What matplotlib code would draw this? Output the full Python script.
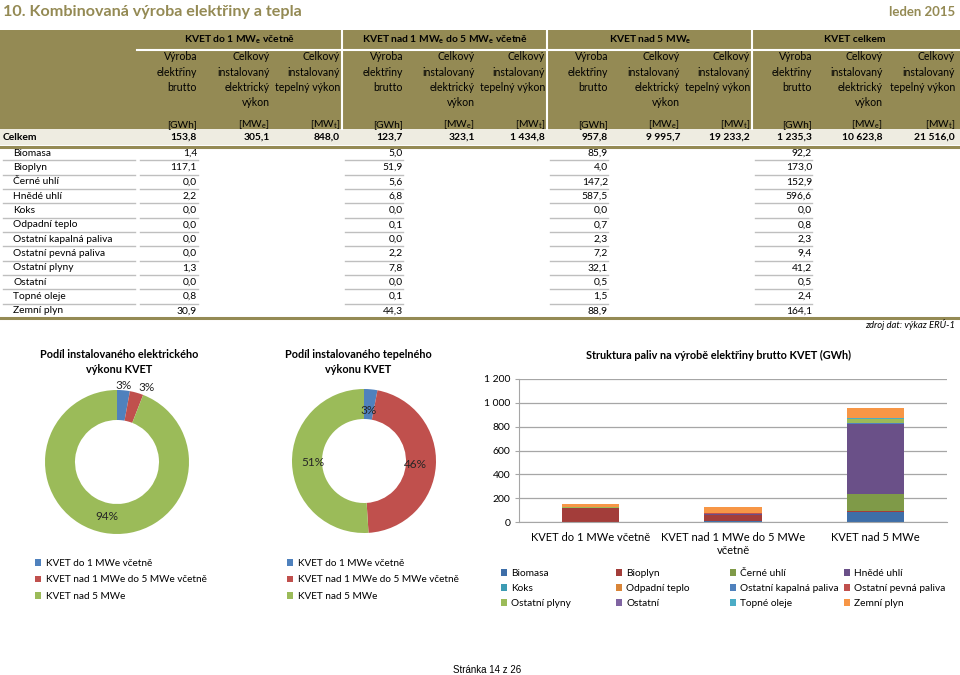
import matplotlib.pyplot as plt
from matplotlib.patches import Rectangle
import numpy as np

plt.rcParams['font.family'] = ['Lato', 'DejaVu Sans']
plt.rcParams['mathtext.fontset'] = 'custom'
plt.rcParams['mathtext.rm'] = 'Lato'
plt.rcParams['mathtext.it'] = 'Lato:italic'
plt.rcParams['mathtext.bf'] = 'Lato:bold'

# --- data ---
groups = ['KVET do 1 MW$_\\mathregular{e}$ včetně',
          'KVET nad 1 MW$_\\mathregular{e}$ do 5 MW$_\\mathregular{e}$ včetně',
          'KVET nad 5 MW$_\\mathregular{e}$',
          'KVET celkem']
col_heads = [['Výroba', 'elektřiny', 'brutto'],
             ['Celkový', 'instalovaný', 'elektrický', 'výkon'],
             ['Celkový', 'instalovaný', 'tepelný výkon']]
units = ['[GWh]', '[MW$_\\mathregular{e}$]', '[MW$_\\mathregular{t}$]']
totals = [153.8, 305.1, 848.0, 123.7, 323.1, 1434.8,
          957.8, 9995.7, 19233.2, 1235.3, 10623.8, 21516.0]
fuels = ['Biomasa', 'Bioplyn', 'Černé uhlí', 'Hnědé uhlí', 'Koks', 'Odpadní teplo',
         'Ostatní kapalná paliva', 'Ostatní pevná paliva', 'Ostatní plyny', 'Ostatní',
         'Topné oleje', 'Zemní plyn']
gen_do1 = [1.4, 117.1, 0.0, 2.2, 0.0, 0.0, 0.0, 0.0, 1.3, 0.0, 0.8, 30.9]
gen_1_5 = [5.0, 51.9, 5.6, 6.8, 0.0, 0.1, 0.0, 2.2, 7.8, 0.0, 0.1, 44.3]
gen_nad5 = [85.9, 4.0, 147.2, 587.5, 0.0, 0.7, 2.3, 7.2, 32.1, 0.5, 1.5, 88.9]
gen_total = [92.2, 173.0, 152.9, 596.6, 0.0, 0.8, 2.3, 9.4, 41.2, 0.5, 2.4, 164.1]
el_share = [305.1, 323.1, 9995.7]     # MWe
heat_share = [3, 46, 51]              # % as shown in the chart
pie_labels = ['KVET do 1 MWe včetně', 'KVET nad 1 MWe do 5 MWe včetně', 'KVET nad 5 MWe']
cat_labels = ['KVET do 1 MWe včetně', 'KVET nad 1 MWe do 5 MWe\nvčetně', 'KVET nad 5 MWe']

W, H = 960, 675
OLIVE = '#948A54'
pie_colors = ['#4F81BD', '#C0504D', '#9BBB59']
fuel_colors = ['#3E6EA8', '#A33D3A', '#7F9A48', '#6A5088', '#3C9BB3', '#D98538',
               '#4F81BD', '#C0504D', '#9BBB59', '#8064A2', '#4BACC6', '#F79646']


def fmt(v):
    return f'{v:,.1f}'.replace(',', ' ').replace('.', ',')


def box(x0, y0, x1, y1):
    return [x0 / W, 1 - y1 / H, (x1 - x0) / W, (y1 - y0) / H]


fig = plt.figure(figsize=(W / 100, H / 100), dpi=100)
pg = fig.add_axes([0, 0, 1, 1])
pg.set_xlim(0, W)
pg.set_ylim(H, 0)
pg.axis('off')

# page header
pg.text(3, 12, '10. Kombinovaná výroba elektřiny a tepla', color=OLIVE,
        fontsize=11.6, fontweight='bold', va='center')
pg.text(955, 12, 'leden 2015', color=OLIVE, fontsize=9.5, fontweight='bold',
        ha='right', va='center')

# table header
pg.add_patch(Rectangle((0, 30), W, 99, color=OLIVE, lw=0))
pg.plot([137, W], [50, 50], color='white', lw=1.5)
for x in [342, 547, 752]:
    pg.plot([x, x], [30, 129], color='white', lw=1.5)
right = [197, 270, 340, 403, 475, 545, 608, 680, 750, 812, 883, 955]
gcent = [240, 445, 650, 855]
for g, c in zip(groups, gcent):
    pg.text(c, 40, g, ha='center', va='center', fontsize=7.4, fontweight='bold')
for j, r in enumerate(right):
    for k, line in enumerate(col_heads[j % 3]):
        pg.text(r, 57 + k * 15.2, line, ha='right', va='center', fontsize=7.6)
    pg.text(r, 125, units[j % 3], ha='right', va='center', fontsize=7.4)

# Celkem row
pg.add_patch(Rectangle((0, 129), W, 16, color='#EEECE1', lw=0))
pg.text(3, 137, 'Celkem', fontweight='bold', va='center', fontsize=7.4)
for r, v in zip(right, totals):
    pg.text(r, 137, fmt(v), ha='right', va='center', fontweight='bold', fontsize=7.4)
pg.plot([0, W], [146.5, 146.5], color=OLIVE, lw=2.2)

# fuel rows
cols = [gen_do1, gen_1_5, gen_nad5, gen_total]
for i, f in enumerate(fuels):
    y = 153 + i * 14.36
    pg.text(13, y, f, va='center', fontsize=7.4)
    for c, vals in enumerate(cols):
        pg.text(right[c * 3], y, fmt(vals[i]), ha='right', va='center', fontsize=7.4)
    if i < len(fuels) - 1:
        for a, b in [(3, 135), (140, 198), (345, 403), (550, 608), (755, 812)]:
            pg.plot([a, b], [y + 7.2, y + 7.2], color='#BFBFBF', lw=1)
pg.plot([0, W], [317.5, 317.5], color=OLIVE, lw=2.2)
pg.text(955, 324, 'zdroj dat: výkaz ERÚ-1', ha='right', va='center',
        fontsize=6.8, style='italic')
pg.text(487, 670, 'Stránka 14 z 26', ha='center', va='center', fontsize=7,
        family='Liberation Sans')


# donut charts
def donut(bx, vals, title, tx, radii, aligns, legend_x):
    ax = fig.add_axes(box(*bx))
    wedges, _ = ax.pie(vals, colors=pie_colors, startangle=90, counterclock=False,
                       radius=0.9, wedgeprops=dict(width=0.375, linewidth=0))
    ax.set_xlim(-1, 1)
    ax.set_ylim(-1, 1)
    total = sum(vals)
    for w, v, r, ha in zip(wedges, vals, radii, aligns):
        a = np.deg2rad((w.theta1 + w.theta2) / 2)
        ax.text(r * np.cos(a), r * np.sin(a), f'{100 * v / total:.0f}%',
                ha=ha, va='center', fontsize=8.5, color='#262626')
    fig.text(tx / W, 1 - 362 / H, title, ha='center', va='center', fontsize=7.8,
             fontweight='bold', linespacing=1.35)
    fig.legend(wedges, pie_labels, loc='upper left',
               bbox_to_anchor=(legend_x / W, 1 - 559 / H), frameon=False,
               fontsize=7.2, handlelength=0.6, handleheight=0.6,
               handletextpad=0.45, labelspacing=0.75, borderpad=0, borderaxespad=0)


donut((37, 382, 197, 542), el_share,
      'Podíl instalovaného elektrického\nvýkonu KVET', 119, [0.96, 0.97, 0.69],
      ['center', 'left', 'center'], 35)
donut((284, 381, 444, 541), heat_share,
      'Podíl instalovaného tepelného\nvýkonu KVET', 358, [0.64, 0.64, 0.64],
      ['center', 'center', 'center'], 287)

# stacked bar chart
ax = fig.add_axes(box(519, 379, 947, 522))
series = np.array([gen_do1, gen_1_5, gen_nad5]).T
x = np.arange(3)
bottom = np.zeros(3)
handles = []
for i, f in enumerate(fuels):
    b = ax.bar(x, series[i], 0.4, bottom=bottom, color=fuel_colors[i], label=f)
    handles.append(b)
    bottom += series[i]
ax.set_xlim(-0.5, 2.5)
ax.set_ylim(0, 1200)
ax.set_yticks(range(0, 1201, 200))
ax.set_yticklabels([f'{v:,}'.replace(',', ' ') for v in range(0, 1201, 200)])
ax.set_xticks(x)
ax.set_xticklabels(cat_labels, fontsize=8)
ax.yaxis.grid(True, color='#A6A6A6', lw=0.9)
ax.set_axisbelow(True)
for s in ['top', 'right']:
    ax.spines[s].set_visible(False)
for s in ['left', 'bottom']:
    ax.spines[s].set_color('#A6A6A6')
ax.tick_params(axis='x', length=0, pad=7)
ax.tick_params(axis='y', length=3, color='#A6A6A6', labelsize=7.5, pad=3)
fig.text(718 / W, 1 - 355 / H, 'Struktura paliv na výrobě elektřiny brutto KVET (GWh)',
         ha='center', va='center', fontsize=7.8, fontweight='bold')
# legend: four columns, filled row by row
for c, lx in enumerate([501, 616, 730, 844]):
    idx = [c, c + 4, c + 8]
    fig.legend([handles[i] for i in idx], [fuels[i] for i in idx],
               loc='upper left', bbox_to_anchor=(lx / W, 1 - 569 / H),
               frameon=False, fontsize=7.3, handlelength=0.6,
               handleheight=0.6, handletextpad=0.4, labelspacing=0.6,
               borderpad=0, borderaxespad=0)

fig.savefig('out.png', dpi=100)
